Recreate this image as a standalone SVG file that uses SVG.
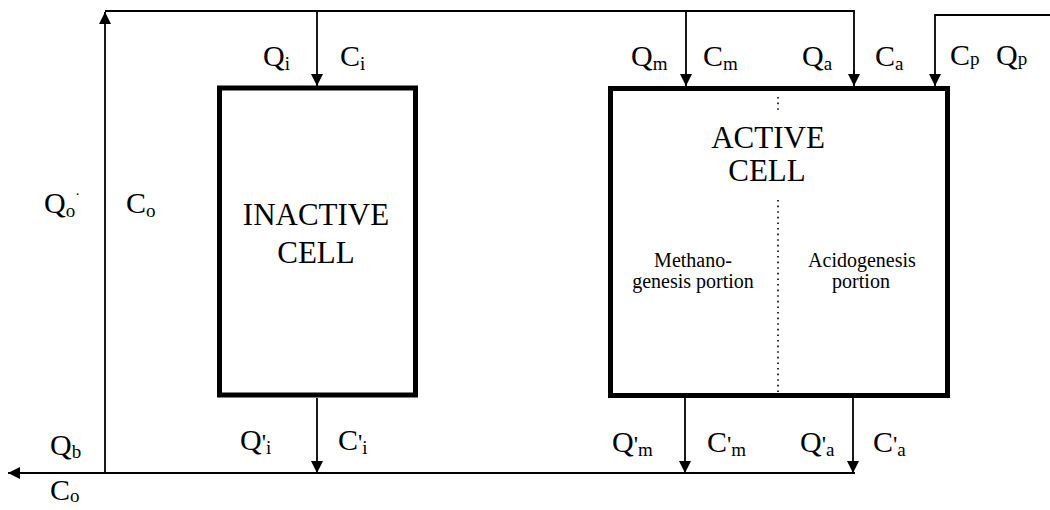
<svg xmlns="http://www.w3.org/2000/svg" width="1050" height="510" viewBox="0 0 1050 510">
<style>
text{font-family:"Liberation Serif","Times New Roman",serif;fill:#000}
.lbl{font-size:30px}
.sub{font-size:19px}
.big{font-size:31px;text-anchor:middle}
.small{font-size:20px;text-anchor:middle}
.box{fill:#fff;stroke:#000;stroke-width:5}
.ln{fill:none;stroke:#000;stroke-width:1.8}
.arr{fill:none;stroke:#000;stroke-width:1.8;marker-end:url(#ah)}
.dot{fill:none;stroke:#000;stroke-width:1.6;stroke-dasharray:1.6 4}
</style>
<defs>
<marker id="ah" markerUnits="userSpaceOnUse" markerWidth="12" markerHeight="12" viewBox="0 0 12 12" refX="12" refY="6" orient="auto">
<path d="M0,0 L12,6 L0,12 Z" fill="#000"/>
</marker>
</defs>
<rect width="1050" height="510" fill="#fff"/>
<g id="connectors">
<path class="ln" d="M105,11 H854 V76"/>
<path class="arr" d="M105,473 V12"/>
<path class="arr" d="M317,11 V86"/>
<path class="arr" d="M686,11 V86"/>
<path class="arr" d="M854,70 V86"/>
<path class="arr" d="M1050,15 H935 V86"/>
<path class="arr" d="M855,473 H8"/>
<path class="arr" d="M317,398 V473"/>
<path class="arr" d="M685,398 V473"/>
<path class="arr" d="M853,398 V473"/>
</g>
<g id="inactive-cell">
<rect class="box" x="219.5" y="88" width="196" height="307"/>
<text class="big" x="316" y="225" font-size="32">INACTIVE</text>
<text class="big" x="316" y="263" font-size="32">CELL</text>
</g>
<g id="active-cell">
<rect class="box" x="610.5" y="88.5" width="337" height="307"/>
<path class="dot" d="M778,97 V110 M778,200 V394"/>
<text class="big" x="768" y="148">ACTIVE</text>
<text class="big" x="767" y="181">CELL</text>
<text class="small" x="693" y="267">Methano-</text>
<text class="small" x="693" y="288">genesis portion</text>
<text class="small" x="862" y="267">Acidogenesis</text>
<text class="small" x="861" y="288">portion</text>
</g>
<g id="labels">
<text class="lbl" x="263" y="66">Q<tspan class="sub" dy="4">i</tspan></text>
<text class="lbl" x="340" y="66">C<tspan class="sub" dy="4">i</tspan></text>
<text class="lbl" x="631" y="66">Q<tspan class="sub" dy="4">m</tspan></text>
<text class="lbl" x="703" y="66">C<tspan class="sub" dy="4">m</tspan></text>
<text class="lbl" x="802" y="66">Q<tspan class="sub" dy="4">a</tspan></text>
<text class="lbl" x="875" y="66">C<tspan class="sub" dy="4">a</tspan></text>
<text class="lbl" x="950" y="65">C<tspan class="sub" dy="0">p</tspan></text>
<text class="lbl" x="996" y="65">Q<tspan class="sub" dy="0">p</tspan></text>
<text class="lbl" x="44" y="213">Q<tspan class="sub" dy="4">o</tspan><tspan font-size="14" dy="-18">·</tspan></text>
<text class="lbl" x="126" y="213">C<tspan class="sub" dy="4">o</tspan></text>
<text class="lbl" x="50" y="455">Q<tspan class="sub" dy="3">b</tspan></text>
<text class="lbl" x="50" y="500">C<tspan class="sub" dy="2">o</tspan></text>
<text class="lbl" x="240" y="450">Q<tspan font-size="24">'</tspan><tspan class="sub" dy="4">i</tspan></text>
<text class="lbl" x="338" y="450">C<tspan font-size="24">'</tspan><tspan class="sub" dy="4">i</tspan></text>
<text class="lbl" x="612" y="452">Q<tspan font-size="24">'</tspan><tspan class="sub" dy="4">m</tspan></text>
<text class="lbl" x="707" y="452">C<tspan font-size="24">'</tspan><tspan class="sub" dy="4">m</tspan></text>
<text class="lbl" x="800" y="452">Q<tspan font-size="24">'</tspan><tspan class="sub" dy="4">a</tspan></text>
<text class="lbl" x="873" y="452">C<tspan font-size="24">'</tspan><tspan class="sub" dy="4">a</tspan></text>
</g>
</svg>
